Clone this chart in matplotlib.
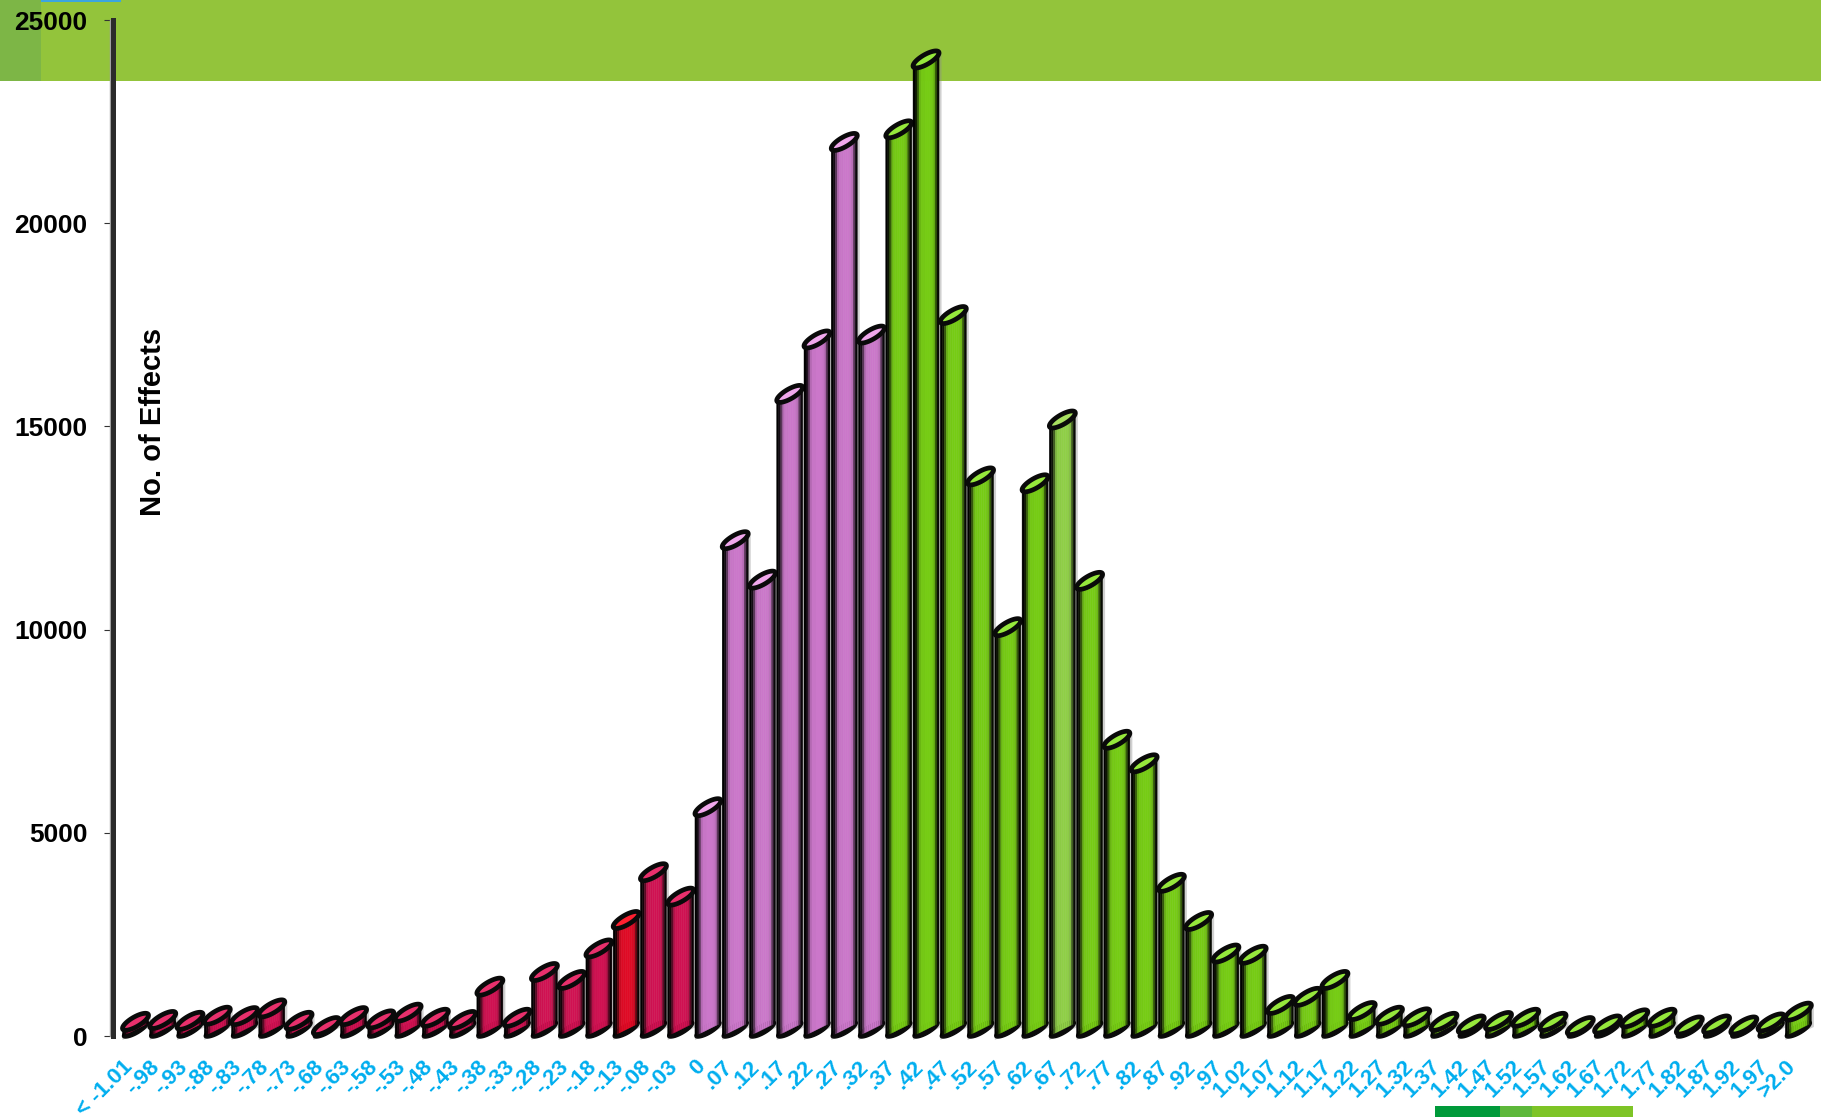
import numpy as np
import matplotlib
matplotlib.use('Agg')
import matplotlib.pyplot as plt
from matplotlib.patches import Rectangle
from matplotlib.transforms import ScaledTranslation

plt.rcParams['font.family'] = ['Liberation Sans', 'DejaVu Sans']

# ---- Data ----

labels = ['< -1.01', '-.98', '-.93', '-.88', '-.83', '-.78', '-.73', '-.68', '-.63', '-.58',
          '-.53', '-.48', '-.43', '-.38', '-.33', '-.28', '-.23', '-.18', '-.13', '-.08',
          '-.03', '0', '.07', '.12', '.17', '.22', '.27', '.32', '.37', '.42',
          '.47', '.52', '.57', '.62', '.67', '.72', '.77', '.82', '.87', '.92',
          '.97', '1.02', '1.07', '1.12', '1.17', '1.22', '1.27', '1.32', '1.37', '1.42',
          '1.47', '1.52', '1.57', '1.62', '1.67', '1.72', '1.77', '1.82', '1.87', '1.92',
          '1.97', '>2.0']

effects = [350, 395, 375, 500, 490, 680, 375, 245, 490, 410,
           575, 450, 395, 1215, 450, 1575, 1380, 2155, 2855, 4030,
           3430, 5630, 12200, 11230, 15800, 17140, 22000, 17260, 22310, 24030,
           17740, 13770, 10060, 13600, 15170, 11200, 7290, 6710, 3770, 2830,
           2030, 2000, 765, 965, 1380, 615, 500, 460, 350, 285,
           370, 450, 350, 245, 285, 435, 450, 260, 285, 260,
           335, 600]

y_ticks = [0, 5000, 10000, 15000, 20000, 25000]

CRIMSON = '#cc1150'
RED = '#dc0a24'
PURPLE = '#c775c6'
GREEN = '#74c814'
PALE_GREEN = '#8ccb45'


def bar_color(i):
    if i == 18:
        return RED, '#ff2030'
    if i < 21:
        return CRIMSON, '#e8306c'
    if i < 28:
        return PURPLE, '#f0a8ec'
    if i == 34:
        return PALE_GREEN, '#a8e060'
    return GREEN, '#96e83c'


# ---- Figure and axes ----

W, H = 1821, 1117
AX_LEFT, AX_RIGHT, AX_TOP, AX_BOTTOM = 113, 1821, 20, 1036

fig = plt.figure(figsize=(W / 100, H / 100), dpi=100, facecolor='white')

# header and footer strips
for x0, x1, y0, y1, c in [(0, W, 0, 80.5, '#93c43b'),
                          (0, 41, 0, 80.5, '#7db646'),
                          (41, 121, 0, 1.5, '#3ba5e0'),
                          (1435, 1500, 1106, H, '#009a3a'),
                          (1500, 1532, 1106, H, '#5db83a'),
                          (1532, 1633, 1106, H, '#7ec426')]:
    fig.add_artist(Rectangle((x0 / W, 1 - y1 / H), (x1 - x0) / W, (y1 - y0) / H,
                             transform=fig.transFigure, facecolor=c, edgecolor='none', zorder=-5))

ax = fig.add_axes([AX_LEFT / W, 1 - AX_BOTTOM / H, (AX_RIGHT - AX_LEFT) / W, (AX_BOTTOM - AX_TOP) / H])
ax.patch.set_alpha(0)
ax.set_zorder(5)

STEP = 27.26
BAR0 = 135.5
ax.set_xlim((AX_LEFT - BAR0) / STEP, (AX_RIGHT - BAR0) / STEP)
ax.set_ylim(0, 25000)

px_x = 1 / STEP
px_y = 25000 / (AX_BOTTOM - AX_TOP)

# ---- Cylinders ----

half_w = 13 * px_x
rise = 6.5 * px_y      # how far the slanted end climbs either side of its centre
minor = 5.5 * px_y
n_strips = 13
shade = np.array([0.0, 0.1, 0.45, 0.9, 1, 1, 1.02, 1.02, 1.02, 1, 0.92, 0.45, 0.05])
t = np.linspace(0, 2 * np.pi, 60)

for i, val in enumerate(effects):
    body, top = bar_color(i)
    rgb = np.array(matplotlib.colors.to_rgb(body))
    edges = np.linspace(-half_w, half_w, n_strips + 1)
    z = i * 3

    # soft shadow at the foot and right of the bar
    ax.fill([i - half_w, i + half_w + 2.5 * px_x, i + half_w + 2.5 * px_x, i - half_w],
            [-4 * px_y, 2 * rise - 4 * px_y, val + rise, val - rise],
            color='#8a8a8a', alpha=0.4, lw=0, zorder=z + 1, clip_on=False)

    # foot of the cylinder
    ex = half_w * np.cos(t)
    ax.fill(i + ex, rise + rise * np.cos(t) + minor * np.sin(t), facecolor='#0a0a0a',
            edgecolor='#0a0a0a', lw=1, zorder=z + 2, clip_on=False)

    # front face, slanted like the end cap, shaded in vertical strips
    for k in range(n_strips):
        x0, x1 = edges[k], edges[k + 1]
        foot0 = rise + rise * x0 / half_w
        foot1 = rise + rise * x1 / half_w
        top0 = val + rise * x0 / half_w
        top1 = val + rise * x1 / half_w
        ax.fill([i + x0, i + x1, i + x1, i + x0], [foot0, foot1, top1, top0],
                color=np.clip(rgb * shade[k], 0, 1), lw=0.3, zorder=z + 2, clip_on=False)

    # end cap, an ellipse tilted along the slant
    ey = val + rise * np.cos(t) + minor * np.sin(t)
    ax.fill(i + ex, ey, facecolor=top, edgecolor='#0a0a0a', lw=3.4, zorder=z + 3, clip_on=False)

# ---- Axes styling ----

for side in ['top', 'right', 'bottom']:
    ax.spines[side].set_visible(False)
ax.spines['left'].set_linewidth(3.6)
ax.spines['left'].set_color('#2b2b2b')
ax.spines['left'].set_zorder(500)

# pale edge down the left of the axis line
ax.plot([ax.get_xlim()[0] - 3.2 * px_x] * 2, [0, 25000], color='#a0a0a0', lw=1, clip_on=False, zorder=499)

ax.set_yticks(y_ticks)
ax.tick_params(axis='y', length=6.5, width=0.8, color='#333333', pad=12)
for lab in ax.get_yticklabels():
    lab.set_fontsize(19)
    lab.set_fontweight('bold')
    lab.set_color('black')

ax.set_xticks(range(len(labels)))
ax.set_xticklabels(labels, rotation=45, ha='right', va='center', rotation_mode='anchor',
                   fontsize=16, fontweight='bold', color='#00aeef')
ax.tick_params(axis='x', length=0, pad=20)
shift = ScaledTranslation(-6 / 100, 0, fig.dpi_scale_trans)
for lab in ax.get_xticklabels():
    lab.set_transform(lab.get_transform() + shift)

fig.text(153 / W, 1 - 422 / H, 'No. of Effects', rotation=90, ha='center', va='center',
         fontsize=21, fontweight='bold', color='black', zorder=6)

fig.savefig('out.png', dpi=100)
plt.close(fig)
